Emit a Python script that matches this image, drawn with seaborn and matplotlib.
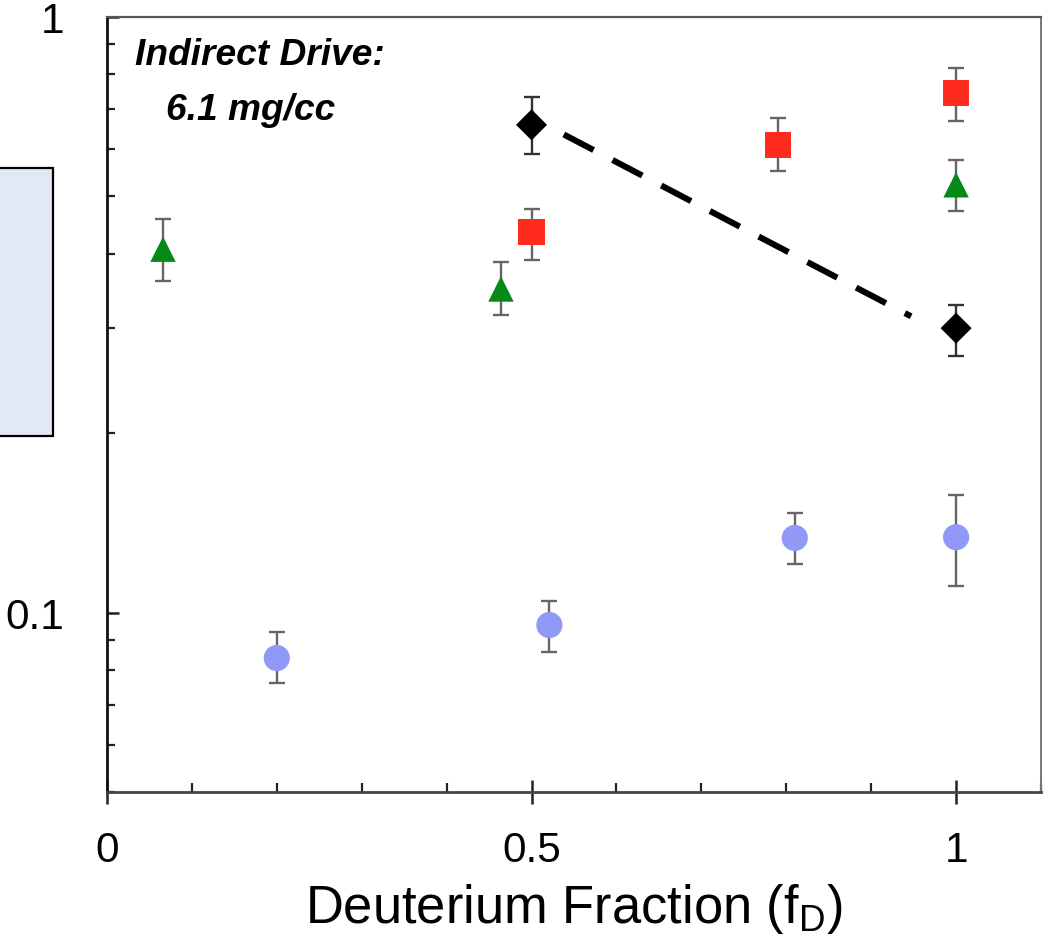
import numpy as np
import pandas as pd
import matplotlib
matplotlib.use("Agg")
import matplotlib.pyplot as plt
from matplotlib.patches import Rectangle
from matplotlib.ticker import FixedLocator, FixedFormatter, LogLocator, NullFormatter, MultipleLocator
import seaborn as sns

# ---- data: fraction of deuterium vs. measured ratio, with asymmetric error bars ----
circle_x = [0.20, 0.521, 0.810, 1.00]
circle_y = [0.0839, 0.0953, 0.1334, 0.1338]
circle_lo = [0.0762, 0.0858, 0.1206, 0.1108]
circle_hi = [0.0927, 0.1045, 0.1469, 0.1574]

square_x = [0.50, 0.790, 1.00]
square_y = [0.435, 0.609, 0.744]
square_lo = [0.390, 0.551, 0.668]
square_hi = [0.475, 0.676, 0.820]

triangle_x = [0.066, 0.464, 1.00]
triangle_y = [0.407, 0.349, 0.522]
triangle_lo = [0.360, 0.316, 0.472]
triangle_hi = [0.457, 0.387, 0.574]

diamond_x = [0.50, 1.00]
diamond_y = [0.658, 0.300]
diamond_lo = [0.588, 0.269]
diamond_hi = [0.733, 0.328]

trend_x = [0.538, 0.947]
trend_y = [0.634, 0.314]

x_ticks = [0, 0.5, 1]
x_tick_labels = ["0", "0.5", "1"]
y_ticks = [0.1, 1]
y_tick_labels = ["0.1", "1"]

sns.set_theme(style="white")
plt.rcParams["font.family"] = ["Liberation Sans", "DejaVu Sans"]
plt.rcParams["mathtext.fontset"] = "custom"
plt.rcParams["mathtext.rm"] = "Liberation Sans"

W, H = 1047, 937
fig = plt.figure(figsize=(W / 100, H / 100), dpi=100)
fig.patch.set_facecolor("white")
ax = fig.add_axes([107 / W, (H - 793) / H, (1041 - 107) / W, (793 - 17.5) / H])
ax.set_facecolor("white")
ax.set_yscale("log")
ax.set_xlim(0, 1.1)
ax.set_ylim(0.05, 1.0)

series = [
    dict(x=circle_x, y=circle_y, lo=circle_lo, hi=circle_hi, marker="o", color="#9199f7", s=355, ecolor="#666666"),
    dict(x=square_x, y=square_y, lo=square_lo, hi=square_hi, marker="s", color="#fe2b1c", s=355, ecolor="#666666"),
    dict(x=triangle_x, y=triangle_y, lo=triangle_lo, hi=triangle_hi, marker="^", color="#058a18", s=335, ecolor="#666666"),
    dict(x=diamond_x, y=diamond_y, lo=diamond_lo, hi=diamond_hi, marker="D", color="#000000", s=250, ecolor="#333333"),
]

# dashed trend between the two diamond measurements
ax.plot(trend_x, trend_y, color="black", lw=4.4, dashes=(5.5, 3.5),
        solid_capstyle="butt", dash_capstyle="butt", zorder=2)

for sr in series:
    yv = np.array(sr["y"])
    err = [yv - np.array(sr["lo"]), np.array(sr["hi"]) - yv]
    ax.errorbar(sr["x"], yv, yerr=err, fmt="none", ecolor=sr["ecolor"],
                elinewidth=1.7, capsize=5.8, capthick=1.7, zorder=3)
    df = pd.DataFrame({"x": sr["x"], "y": sr["y"]})
    sns.scatterplot(data=df, x="x", y="y", ax=ax, marker=sr["marker"], color=sr["color"],
                    s=sr["s"], linewidth=0, edgecolor="none", zorder=4, legend=False)

# ticks
ax.xaxis.set_major_locator(FixedLocator(x_ticks))
ax.xaxis.set_major_formatter(FixedFormatter(x_tick_labels))
ax.xaxis.set_minor_locator(MultipleLocator(0.1))
ax.yaxis.set_major_locator(FixedLocator(y_ticks))
ax.yaxis.set_major_formatter(FixedFormatter(y_tick_labels))
ax.yaxis.set_minor_locator(LogLocator(base=10, subs=np.arange(2, 10)))
ax.yaxis.set_minor_formatter(NullFormatter())

ax.tick_params(axis="x", which="major", direction="inout", length=17, width=1.8,
               color="#222222", labelsize=30.5, pad=19, labelcolor="black", bottom=True)
ax.tick_params(axis="x", which="minor", direction="in", length=6.5, width=1.6,
               color="#222222", bottom=True)
ax.tick_params(axis="y", which="major", direction="in", length=8.6, width=1.8,
               color="#222222", labelsize=30.5, pad=31, labelcolor="black", left=True)
ax.tick_params(axis="y", which="minor", direction="in", length=5.8, width=1.6,
               color="#222222", left=True)

ax.set_xlabel(r"Deuterium Fraction (f$_{\mathregular{D}}$)", fontsize=37.8, labelpad=8, color="black")
ax.set_ylabel("")
ax.grid(False)

for name, col, lw in [("left", "#111111", 2.0), ("bottom", "#444444", 2.0),
                      ("top", "#555555", 1.6), ("right", "#777777", 1.4)]:
    ax.spines[name].set_visible(True)
    ax.spines[name].set_color(col)
    ax.spines[name].set_linewidth(lw)

# annotation
fig.text(135 / W, (H - 65) / H, "Indirect Drive:", fontsize=26.7, fontweight="bold",
         fontstyle="italic", va="baseline", ha="left", color="black")
fig.text(166 / W, (H - 120) / H, "6.1 mg/cc", fontsize=26.7, fontweight="bold",
         fontstyle="italic", va="baseline", ha="left", color="black")

# partially visible side panel at the left edge
fig.patches.append(Rectangle((-6 / W, (H - 437) / H), 59 / W, 268 / H,
                             transform=fig.transFigure, facecolor="#e2e9f4",
                             edgecolor="black", linewidth=1.6, zorder=0))

fig.savefig("out.png", dpi=100)
